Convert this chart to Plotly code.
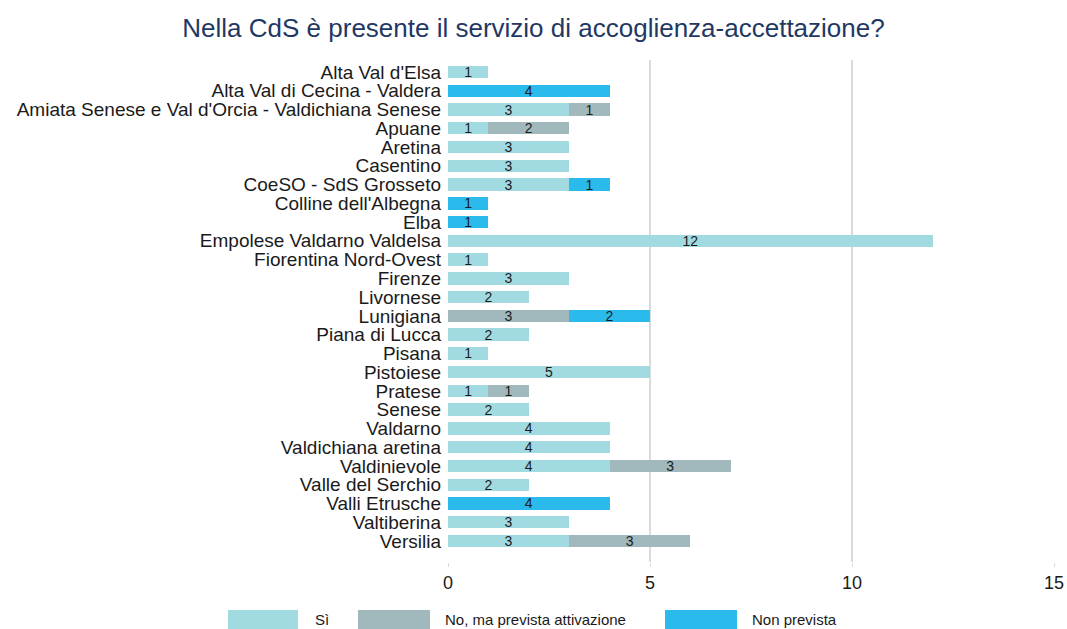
import plotly.graph_objects as go

categories = ["Alta Val d'Elsa", "Alta Val di Cecina - Valdera",
              "Amiata Senese e Val d'Orcia - Valdichiana Senese", "Apuane", "Aretina",
              "Casentino", "CoeSO - SdS Grosseto", "Colline dell'Albegna", "Elba",
              "Empolese Valdarno Valdelsa", "Fiorentina Nord-Ovest", "Firenze", "Livornese",
              "Lunigiana", "Piana di Lucca", "Pisana", "Pistoiese", "Pratese", "Senese",
              "Valdarno", "Valdichiana aretina", "Valdinievole", "Valle del Serchio",
              "Valli Etrusche", "Valtiberina", "Versilia"]
si = [1, None, 3, 1, 3, 3, 3, None, None, 12, 1, 3, 2, None, 2, 1, 5, 1, 2, 4, 4, 4, 2, None, 3, 3]
no_prevista_attivazione = [None, None, 1, 2, None, None, None, None, None, None, None, None, None,
                           3, None, None, None, 1, None, None, None, 3, None, None, None, 3]
non_prevista = [None, 4, None, None, None, None, 1, 1, 1, None, None, None, None,
                2, None, None, None, None, None, None, None, None, None, 4, None, None]

series_names = ["Sì", "No, ma prevista attivazione", "Non prevista"]
series_values = [si, no_prevista_attivazione, non_prevista]
colors = ["#A2DAE2", "#A1B9BD", "#2BBAEC"]
x_ticks = [0, 5, 10, 15]

font_family = "Liberation Sans, Arial, sans-serif"

W, H = 1067, 629
L, R, T, B = 448, 13, 60, 67
pw, ph = W - L - R, H - T - B

fig = go.Figure()
for name, vals, col in zip(series_names, series_values, colors):
    fig.add_trace(go.Bar(
        y=categories, x=vals, name=name, orientation="h",
        marker=dict(color=col, line=dict(width=0)),
        width=0.66,
        text=[str(v) if v else "" for v in vals],
        textposition="inside", insidetextanchor="middle", textangle=0,
        constraintext="none",
        textfont=dict(color="#1a1a1a", size=14, family=font_family),
        showlegend=False,
    ))

fig.update_layout(
    barmode="stack",
    width=W, height=H,
    margin=dict(l=L, r=R, t=T, b=B, autoexpand=False),
    paper_bgcolor="white", plot_bgcolor="white",
    font=dict(family=font_family, color="#1a1a1a"),
    title=dict(text="Nella CdS è presente il servizio di accoglienza-accettazione?",
               x=0.5, xanchor="center", y=1 - 28 / H, yanchor="middle",
               font=dict(size=26, color="#1F3864", family=font_family)),
    xaxis=dict(range=[0, 15], tickvals=x_ticks, showgrid=True, gridcolor="#DADADA",
               gridwidth=1.5, zeroline=False, showline=False,
               tickfont=dict(size=18), ticks="outside", ticklen=4, tickcolor="#DADADA"),
    yaxis=dict(autorange=False, range=[26.12, -0.64], categoryorder="array",
               categoryarray=categories, tickmode="array", tickvals=categories,
               tickfont=dict(size=19), ticklabelstandoff=6,
               showgrid=False, showline=False, ticks=""),
)

# custom legend (wide swatches like the reference); positions given in page pixels
legend_items = [(228, 298, 313), (358, 430, 443), (665, 737, 750)]
px0, py1 = L, H - B  # plot-area left / bottom in pixels
for (x0, x1, tx), name, col in zip(legend_items, series_names, colors):
    fig.add_shape(type="rect", xref="paper", yref="paper",
                  x0=(x0 - px0) / pw, x1=(x1 - px0) / pw,
                  y0=-(610 - py1) / ph, y1=-(629 - py1) / ph,
                  fillcolor=col, line=dict(width=0))
    fig.add_annotation(xref="paper", yref="paper", x=(tx - px0) / pw,
                       y=-(619.5 - py1) / ph, text=name, showarrow=False,
                       xanchor="left", yanchor="middle",
                       font=dict(size=15, color="#1a1a1a", family=font_family))

fig.write_html("out.html", config={"displayModeBar": False},
               post_script="document.body.style.margin='0';document.body.style.overflow='hidden';")
